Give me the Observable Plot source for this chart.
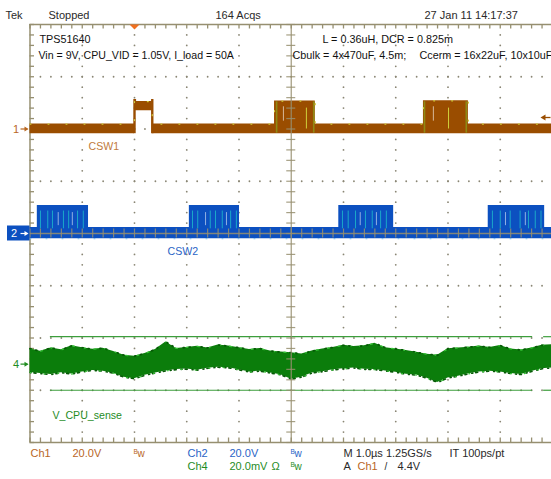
<!DOCTYPE html>
<html>
<head>
<meta charset="utf-8">
<script src="https://cdn.jsdelivr.net/npm/d3@7"></script>
<script src="https://cdn.jsdelivr.net/npm/@observablehq/plot@0.6"></script>
<style>
html, body { margin: 0; padding: 0; background: #fff; overflow: hidden; }
#chart svg { display: block; }
</style>
</head>
<body>
<div id="chart"></div>
<script>
// ================= DATA =================
// Channel settings
const ch1VoltsPerDiv = 20, ch2VoltsPerDiv = 20, ch4MilliVoltsPerDiv = 20;
const ch1Offset = 2, ch2Offset = 0, ch4Offset = -2.5;   // reference levels, divisions
const triggerTime = -3.0;                                // µs
const triggerLevel = 4.4;                                // V (Ch1)

// CSW1 envelope: time (µs), low / high (V), step-after
const ch1Time = [-5, -3.0, -2.96, -2.66, -0.32, 0.46, 2.53, 3.39, 5];
const ch1Low  = [-1.8, 7.0, 7.0, -1.8, -1.8, -1.8, -1.8, -1.8, -1.8];
const ch1High = [1.9, 11.3, 10.5, 1.9, 10.7, 1.9, 10.8, 1.9, 1.9];
const ch1CleanEdges = [-3.0, -2.66];
const ch1OliveStreaks = [-0.28, 0.43, 2.55, 3.35];
const ch1YellowStreaks = [0.29, 3.01];
const ch1Gaps = [-0.15, 2.72];

// CSW2 envelope: time (µs), low / high (V), step-after
const ch2Time = [-5, -4.86, -3.88, -1.95, -0.99, 0.91, 1.96, 3.77, 4.85, 5];
const ch2Low  = [-2.0, -2.0, -2.0, -2.0, -2.0, -2.0, -2.0, -2.0, -2.0, -2.0];
const ch2High = [2.3, 10.7, 2.3, 10.7, 2.3, 10.7, 2.3, 10.7, 2.3, 2.3];
const ch2CyanStreaks = [-4.80, -4.66, -4.57, -4.36, -4.26, -4.09, -3.98,
                        -1.89, -1.79, -1.55, -1.45, -1.32, -1.16, -1.05,
                        0.98, 1.09, 1.23, 1.42, 1.55, 1.71, 1.82,
                        3.85, 4.00, 4.19, 4.38, 4.54, 4.67, 4.78];
const ch2Gaps = [-4.46, -4.19, -1.64, -1.24, 1.32, 1.63, 4.10, 4.48];

// V_CPU_sense envelope: time (µs), low / high (mV)
const ch4Time = [-5.0,-4.8,-4.6,-4.4,-4.2,-4.0,-3.8,-3.6,-3.4,-3.2,-3.0,-2.8,-2.6,-2.4,-2.2,-2.0,-1.8,-1.6,-1.4,-1.2,-1.0,
                 -0.8,-0.6,-0.4,-0.2,0.0,0.2,0.4,0.6,0.8,1.0,1.2,1.4,1.6,1.8,2.0,2.2,2.4,2.6,2.8,3.0,
                 3.2,3.4,3.6,3.8,4.0,4.2,4.4,4.6,4.8,5.0];
const ch4High = [5.9,4.9,6.2,5.5,7.0,6.3,5.7,6.1,4.8,3.4,3.0,4.1,5.6,8.5,6.0,6.4,6.8,6.2,7.3,6.9,6.3,
                 5.6,6.0,5.0,4.6,4.4,3.9,5.0,5.8,6.4,7.2,6.7,7.0,8.0,6.3,5.8,5.2,4.5,3.8,3.4,5.9,
                 6.2,6.5,6.9,6.4,7.1,5.8,5.4,6.2,7.2,7.4];
const ch4Low  = [-3.2,-3.6,-4.0,-3.3,-3.8,-3.0,-2.4,-2.7,-3.5,-5.0,-5.6,-4.3,-3.4,-2.6,-2.1,-1.9,-2.3,-1.6,-1.2,-1.4,-2.2,
                 -3.0,-2.7,-3.4,-4.1,-5.8,-5.0,-3.4,-2.9,-2.2,-1.8,-1.5,-2.0,-2.1,-2.6,-3.1,-3.9,-4.2,-5.4,-7.0,-5.3,
                 -4.6,-3.7,-3.0,-2.7,-3.0,-3.6,-4.0,-2.8,-1.8,-1.4];
const ch4Limits = [10.5, -10];  // mV

// Text
const statusLabels = ["Tek", "Stopped", "164 Acqs", "27 Jan 11 14:17:37"];
const noteLabels = ["TPS51640", "Vin = 9V, CPU_VID = 1.05V, I_load = 50A",
                    "L = 0.36uH, DCR = 0.825m", "Cbulk = 4x470uF, 4.5m;", "Ccerm = 16x22uF, 10x10uF"];
const traceLabels = ["CSW1", "CSW2", "V_CPU_sense"];
const channelMarks = ["1", "2", "4"];
const ch1Readout = ["Ch1", "20.0V"];
const ch2Readout = ["Ch2", "20.0V"];
const ch4Readout = ["Ch4", "20.0mV", "Ω"];
const bwLabel = ["B", "w"];
const timebaseLabels = ["M 1.0µs 1.25GS/s", "IT 100ps/pt"];
const triggerLabels = ["A", "Ch1", "/", "4.4V"];

// ================= BUILD =================
const ch1 = ch1Time.map((t, i) => ({t, lo: ch1Low[i], hi: ch1High[i]}));
const ch2 = ch2Time.map((t, i) => ({t, lo: ch2Low[i], hi: ch2High[i]}));
const ch4 = ch4Time.map((t, i) => ({t, lo: ch4Low[i], hi: ch4High[i]}));

const v1 = v => ch1Offset + v / ch1VoltsPerDiv;
const v2 = v => ch2Offset + v / ch2VoltsPerDiv;
const v4 = mv => ch4Offset + mv / ch4MilliVoltsPerDiv;

const FONT = "'Liberation Sans', Arial, Helvetica, sans-serif";
const tan = "#968f70", dotColor = "#8a8674";
const brown = "#9a4d00", brownText = "#b8661f", olive = "#8e8a14", yellow = "#cfcf3a";
const blue = "#0c50c0", blueText = "#2a64c6", cyan = "#1ba8c8";
const green = "#0b7d0b", greenDark = "#075a07", greenLight = "#36c236", greenText = "#1f8c1f", limitGreen = "#3c9e3c";
const dark = "#2a2a2a";

// graticule positions (divisions)
const minorX = d3.range(51).map(i => -5 + i * 0.2);
const minorY = d3.range(41).map(i => -4 + i * 0.2);
const majorX = [-4, -3, -2, -1, 1, 2, 3, 4];
const majorY = [-3, -2, -1, 1, 2, 3];
const gridDots = [];
for (const x of majorX) for (const y of minorY) if (Math.abs(y) < 3.99) gridDots.push([x, y]);
for (const y of majorY) for (const x of minorX) if (Math.abs(x) < 4.99) gridDots.push([x, y]);
const tk = 4.5 / 52.25; // tick length in units

function label(str, px, baseline, fill, size = 11) {
  return Plot.text([str], {frameAnchor: "top-left", dx: px - 29.5, dy: baseline - 24, text: d => d,
    textAnchor: "start", lineAnchor: "bottom", fill, fontSize: size});
}
function bw(px, baseline, fill) {
  return [label(bwLabel[0], px, baseline - 3, fill, 6.5), label(bwLabel[1], px + 4, baseline, fill, 10)];
}
const trigSymbol = {draw(ctx) { ctx.moveTo(-5, 0); ctx.lineTo(5, 0); ctx.lineTo(0, 5); ctx.closePath(); }};
const arrowHead = {draw(ctx) { ctx.moveTo(0, 0); ctx.lineTo(-4, -2.5); ctx.lineTo(-4, 2.5); ctx.closePath(); }};
const arrowLeft = {draw(ctx) { ctx.moveTo(0, 0); ctx.lineTo(5, -3); ctx.lineTo(5, 3); ctx.closePath(); }};
function marker(level, fill) {
  return [
    Plot.ruleY([level], {y: d => d, x1: -5, x2: -5, insetLeft: -9, insetRight: 2, stroke: fill, strokeWidth: 1.2}),
    Plot.dot([level], {x: () => -5, y: d => d, dx: -1.5, symbol: arrowHead, fill})
  ];
}

const graticule = [
  Plot.dot(gridDots, {x: d => d[0], y: d => d[1], r: 0.9, fill: dotColor}),
  Plot.ruleY([4, -4], {stroke: tan, strokeWidth: 1.5}),
  Plot.ruleX([-5], {stroke: tan, strokeWidth: 1.5}),
  Plot.ruleX(minorX, {x: d => d, y1: 4, y2: 4 - tk, stroke: tan, strokeWidth: 1.3}),
  Plot.ruleX(minorX, {x: d => d, y1: -4, y2: -4 + tk, stroke: tan, strokeWidth: 1.3}),
  Plot.ruleY(minorY, {y: d => d, x1: -5, x2: -5 + tk, stroke: tan, strokeWidth: 1.3})
];

const traces = [
  // Ch1
  Plot.areaY(ch1, {x: "t", y1: d => v1(d.lo), y2: d => v1(d.hi), curve: "step-after", fill: brown}),
  Plot.ruleX(ch1CleanEdges, {x: d => d, y1: v1(-1.8), y2: v1(11.3), stroke: brown, strokeWidth: 2.4}),
  Plot.ruleX(ch1OliveStreaks, {x: d => d, y1: v1(-1.6), y2: v1(10.4), stroke: olive, strokeWidth: 1.6}),
  Plot.ruleX(ch1YellowStreaks, {x: d => d, y1: v1(0), y2: v1(8), stroke: yellow, strokeWidth: 1}),
  Plot.ruleX(ch1Gaps, {x: d => d, y1: v1(3), y2: v1(8.5), stroke: "#fff", strokeOpacity: 0.6, strokeWidth: 1}),
  Plot.line(ch1, {x: "t", y: d => v1(d.hi), curve: "step-after", stroke: yellow, strokeDasharray: "1 17", strokeWidth: 1.2}),
  // Ch2
  Plot.areaY(ch2, {x: "t", y1: d => v2(d.lo), y2: d => v2(d.hi), curve: "step-after", fill: blue}),
  Plot.ruleX(ch2CyanStreaks, {x: d => d, y1: v2(1.8), y2: v2(8.6), stroke: cyan, strokeWidth: 1}),
  Plot.ruleX(ch2Gaps, {x: d => d, y1: v2(3), y2: v2(8), stroke: "#fff", strokeOpacity: 0.55, strokeWidth: 1}),
  Plot.line(ch2, {x: "t", y: d => v2(d.lo), curve: "step-after", stroke: "#6fb8e8", strokeDasharray: "1 15", strokeWidth: 1}),
  // Ch4
  Plot.ruleY(ch4Limits, {y: d => v4(d), x1: -4.61, x2: 4.62, stroke: limitGreen, strokeWidth: 1.2}),
  Plot.ruleY(ch4Limits, {y: d => v4(d), x1: 4.83, x2: 5, stroke: limitGreen, strokeWidth: 1.2}),
  Plot.areaY(ch4, {x: "t", y1: d => v4(d.lo), y2: d => v4(d.hi), fill: green}),
  Plot.line(ch4, {x: "t", y: d => v4(d.hi), stroke: greenLight, strokeDasharray: "2 9", strokeWidth: 1.3}),
  Plot.line(ch4, {x: "t", y: d => v4(d.lo), stroke: greenDark, strokeDasharray: "1 3 2 5", strokeWidth: 1.6}),
  Plot.line(ch4, {x: "t", y: d => v4(d.hi), stroke: greenDark, strokeDasharray: "1 5 1 11", strokeWidth: 1.8}),
  Plot.line(ch4, {x: "t", y: d => v4(d.lo), stroke: greenLight, strokeDasharray: "1 13", strokeWidth: 1.2})
];

const overlay = [
  // center cross (drawn over traces)
  Plot.ruleX([0], {stroke: tan, strokeOpacity: 0.85, strokeWidth: 1.3}),
  Plot.ruleY([0], {stroke: tan, strokeOpacity: 0.85, strokeWidth: 1.3}),
  Plot.ruleY(minorY, {y: d => d, x1: -tk, x2: tk, stroke: tan, strokeOpacity: 0.85, strokeWidth: 1.2}),
  Plot.ruleX(minorX, {x: d => d, y1: -tk, y2: tk, stroke: tan, strokeOpacity: 0.85, strokeWidth: 1.2}),
  // trigger markers
  Plot.dot([triggerTime], {x: d => d, frameAnchor: "top", symbol: trigSymbol, fill: "#f07020"}),
  Plot.ruleY([v1(triggerLevel)], {y: d => d, x1: 5, x2: 5, insetLeft: -8, insetRight: 1.5, stroke: brown, strokeWidth: 1.3}),
  Plot.dot([v1(triggerLevel)], {x: () => 5, y: d => d, dx: -12, symbol: arrowLeft, fill: brown}),
  // channel reference markers
  Plot.rect([ch2Offset], {x1: -5, x2: -5, y1: d => d, y2: d => d, insetLeft: -22.5, insetTop: -7.5, insetBottom: -7.5, fill: blue}),
  Plot.text([ch1Offset], {y: d => d, frameAnchor: "left", dx: -17, text: () => channelMarks[0], textAnchor: "start", fill: brownText, fontSize: 11}),
  Plot.text([ch2Offset], {y: d => d, frameAnchor: "left", dx: -19, text: () => channelMarks[1], textAnchor: "start", fill: "#fff", fontSize: 11}),
  Plot.text([ch4Offset], {y: d => d, frameAnchor: "left", dx: -17, text: () => channelMarks[2], textAnchor: "start", fill: greenText, fontSize: 11}),
  ...marker(ch1Offset, brownText),
  ...marker(ch2Offset, "#fff"),
  ...marker(ch4Offset, greenText)
];

const texts = [
  label(statusLabels[0], 5, 18, dark),
  label(statusLabels[1], 48, 18, dark),
  label(statusLabels[2], 215, 18, dark),
  label(statusLabels[3], 424, 18, dark),
  label(noteLabels[0], 39, 42, "#111", 10.8),
  label(noteLabels[1], 38, 58, "#111", 10.6),
  label(noteLabels[2], 322, 42, "#111", 10.8),
  label(noteLabels[3], 292, 58, "#111", 10.8),
  label(noteLabels[4], 419, 58, "#111", 10.8),
  label(traceLabels[0], 88, 149, "#c07a3c", 10.6),
  label(traceLabels[1], 167, 254, blueText, 10.6),
  label(traceLabels[2], 52, 418, greenText, 10.6),
  label(ch1Readout[0], 30, 456, brownText),
  label(ch1Readout[1], 72, 456, brownText),
  ...bw(133, 456, brownText),
  label(ch2Readout[0], 187, 456, blueText),
  label(ch2Readout[1], 229, 456, blueText),
  ...bw(290, 456, blueText),
  label(ch4Readout[0], 187, 469, greenText),
  label(ch4Readout[1], 229, 469, greenText),
  label(ch4Readout[2], 271, 469, greenText),
  ...bw(290, 469, greenText),
  label(timebaseLabels[0], 343, 456, dark),
  label(timebaseLabels[1], 449, 456, dark),
  label(triggerLabels[0], 343, 469, dark),
  label(triggerLabels[1], 357, 469, brownText),
  label(triggerLabels[2], 384, 469, dark, 10),
  label(triggerLabels[3], 397, 469, dark)
];

const chart = Plot.plot({
  width: 551, height: 479,
  marginLeft: 29.5, marginRight: -1, marginTop: 24, marginBottom: 37,
  x: {domain: [-5, 5], axis: null},
  y: {domain: [-4, 4], axis: null},
  style: {fontFamily: FONT, fontSize: "11px"},
  marks: [...graticule, ...traces, ...overlay, ...texts]
});
document.getElementById("chart").appendChild(chart);
</script>
</body>
</html>
